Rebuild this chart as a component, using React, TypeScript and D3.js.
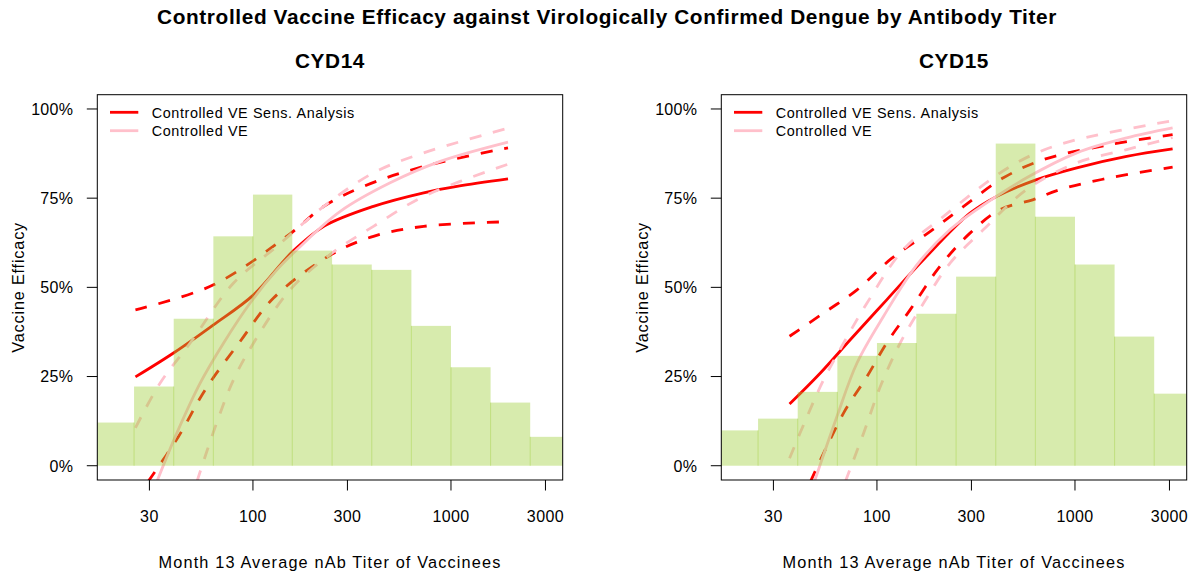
import React from "react";
import * as d3 from "d3";

const FONT = "'Liberation Sans', Arial, Helvetica, sans-serif";

// histogram bins (titer) and bar heights on the VE scale
const binEdges = [15.8, 25.1, 39.8, 63.1, 100, 158, 251, 398, 631, 1000, 1585, 2512, 3981];
const hist14 = [0.121, 0.222, 0.412, 0.643, 0.76, 0.603, 0.564, 0.549, 0.392, 0.276, 0.177, 0.081];
const hist15 = [0.099, 0.132, 0.207, 0.308, 0.344, 0.426, 0.53, 0.903, 0.698, 0.564, 0.362, 0.202];

// curves: [titer, VE]
const sens14: [number, number][] = [[25.5, 0.249], [39.7, 0.316], [63.2, 0.395], [100.7, 0.479], [159, 0.601], [228, 0.671], [406, 0.727], [728, 0.765], [1072, 0.783], [1941, 0.804]];
const sensHi14: [number, number][] = [[25.5, 0.437], [63.2, 0.507], [154, 0.65], [228, 0.727], [362, 0.783], [728, 0.839], [1941, 0.891]];
const sensLo14: [number, number][] = [[29.5, -0.045], [42.1, 0.082], [57.4, 0.213], [86.3, 0.349], [127, 0.47], [245, 0.59], [406, 0.643], [728, 0.671], [1941, 0.684]];
const ve14: [number, number][] = [[32.7, -0.045], [41.3, 0.092], [54.2, 0.232], [71.1, 0.344], [96.8, 0.456], [132, 0.549], [167, 0.606], [276, 0.713], [493, 0.793], [883, 0.853], [1941, 0.907]];
const veHi14: [number, number][] = [[25.5, 0.106], [34.0, 0.232], [48.2, 0.344], [79.8, 0.512], [132, 0.615], [228, 0.727], [406, 0.821], [728, 0.877], [1941, 0.946]];
const veLo14: [number, number][] = [[52.1, -0.045], [64.6, 0.11], [79.8, 0.241], [100.7, 0.344], [154, 0.493], [245, 0.592], [406, 0.671], [728, 0.755], [1941, 0.845]];

const sens15: [number, number][] = [[36.2, 0.173], [51.8, 0.26], [73.3, 0.353], [112, 0.465], [172, 0.578], [295, 0.708], [403, 0.755], [641, 0.802], [1021, 0.835], [1824, 0.867], [3112, 0.888]];
const sensHi15: [number, number][] = [[36.2, 0.363], [53.8, 0.428], [79.3, 0.493], [119, 0.582], [186, 0.657], [274, 0.727], [435, 0.807], [692, 0.858], [1500, 0.9], [3112, 0.928]];
const sensLo15: [number, number][] = [[46.1, -0.045], [67.9, 0.148], [89.1, 0.25], [112, 0.344], [147, 0.437], [208, 0.559], [295, 0.652], [419, 0.718], [617, 0.746], [839, 0.774], [1500, 0.807], [3112, 0.837]];
const ve15: [number, number][] = [[48.3, -0.045], [62.8, 0.138], [79.3, 0.288], [108, 0.419], [159, 0.563], [234, 0.662], [319, 0.718], [570, 0.807], [1021, 0.877], [1824, 0.919], [3112, 0.947]];
const veHi15: [number, number][] = [[36.2, 0.021], [44.4, 0.138], [53.8, 0.241], [67.9, 0.344], [89.1, 0.456], [136, 0.606], [217, 0.699], [419, 0.821], [641, 0.877], [1021, 0.914], [3112, 0.967]];
const veLo15: [number, number][] = [[69.2, -0.045], [85.7, 0.092], [104, 0.222], [131, 0.344], [172, 0.456], [234, 0.568], [345, 0.662], [570, 0.774], [1021, 0.849], [1824, 0.886], [3112, 0.92]];

const xTicks = [30, 100, 300, 1000, 3000];
const yTicks = [0, 0.25, 0.5, 0.75, 1];
const legendLabels = ["Controlled VE Sens. Analysis", "Controlled VE"];

const RED = "#ff0000";
const PINK = "#ffc0cb";
const HIST_FILL = "rgba(154,205,50,0.4)";

const W = 465.4;
const H = 385.3;
const TOP = 94.7;

const lo = Math.log10(20);
const hi = Math.log10(3000);
const ext = 0.04 * (hi - lo);
const x = d3.scaleLog().domain([10 ** (lo - ext), 10 ** (hi + ext)]).range([0, W]);
const y = d3.scaleLinear().domain([-0.04, 1.04]).range([H, 0]);

const line = d3
  .line<[number, number]>()
  .x((d) => x(d[0]))
  .y((d) => y(d[1]))
  .curve(d3.curveCatmullRom.alpha(0.5));

type Curve = { data: [number, number][]; color: string; dashed: boolean };

function Panel({ left, title, hist, curves, id }: { left: number; title: string; hist: number[]; curves: Curve[]; id: string }) {
  return (
    <g transform={`translate(${left},${TOP})`}>
      <defs>
        <clipPath id={id}>
          <rect x={0} y={0} width={W} height={H} />
        </clipPath>
      </defs>
      <text x={W / 2} y={68.3 - TOP} textAnchor="middle" fontSize={20.8} fontWeight="bold" letterSpacing={0.6}>
        {title}
      </text>
      <g clipPath={`url(#${id})`}>
        {curves.map((c, i) => (
          <path
            key={i}
            d={line(c.data) || ""}
            fill="none"
            stroke={c.color}
            strokeWidth={2.8}
            strokeDasharray={c.dashed ? "12,12" : undefined}
          />
        ))}
        {hist.map((h, i) => (
          <rect
            key={i}
            x={x(binEdges[i])}
            y={y(h)}
            width={x(binEdges[i + 1]) - x(binEdges[i])}
            height={y(0) - y(h)}
            fill={HIST_FILL}
          />
        ))}
        {hist.slice(1).map((h, i) => (
          <line
            key={i}
            x1={x(binEdges[i + 1])}
            x2={x(binEdges[i + 1])}
            y1={y(0)}
            y2={y(Math.min(h, hist[i]))}
            stroke={HIST_FILL}
            strokeWidth={1}
          />
        ))}
      </g>
      {legendLabels.map((l, i) => (
        <g key={l} transform={`translate(0,${17.6 + i * 18.4})`}>
          <line x1={12.7} x2={41} y1={0} y2={0} stroke={i === 0 ? RED : PINK} strokeWidth={2.8} />
          <text x={54.4} y={5.2} fontSize={14.4} letterSpacing={0.6}>
            {l}
          </text>
        </g>
      ))}
      <rect x={0} y={0} width={W} height={H} fill="none" stroke="#000" strokeWidth={1} />
      {yTicks.map((t) => (
        <g key={t} transform={`translate(0,${y(t)})`}>
          <line x1={0} x2={-10.5} stroke="#000" />
          <text x={-24} y={5.8} textAnchor="end" fontSize={16} letterSpacing={0.3}>
            {d3.format(".0%")(t)}
          </text>
        </g>
      ))}
      {xTicks.map((t) => (
        <g key={t} transform={`translate(${x(t)},${H})`}>
          <line y1={0} y2={10.5} stroke="#000" />
          <text y={41.7} textAnchor="middle" fontSize={16} letterSpacing={0.4}>
            {t}
          </text>
        </g>
      ))}
      <text x={W / 2} y={568.3 - TOP} textAnchor="middle" fontSize={16.3} letterSpacing={1.15}>
        Month 13 Average nAb Titer of Vaccinees
      </text>
      <text transform={`translate(${24 - 97.3},${H / 2}) rotate(-90)`} textAnchor="middle" fontSize={16.3} letterSpacing={0.8}>
        Vaccine Efficacy
      </text>
    </g>
  );
}

export default function App() {
  const curves14: Curve[] = [
    { data: sens14, color: RED, dashed: false },
    { data: sensHi14, color: RED, dashed: true },
    { data: sensLo14, color: RED, dashed: true },
    { data: ve14, color: PINK, dashed: false },
    { data: veHi14, color: PINK, dashed: true },
    { data: veLo14, color: PINK, dashed: true },
  ];
  const curves15: Curve[] = [
    { data: sens15, color: RED, dashed: false },
    { data: sensHi15, color: RED, dashed: true },
    { data: sensLo15, color: RED, dashed: true },
    { data: ve15, color: PINK, dashed: false },
    { data: veHi15, color: PINK, dashed: true },
    { data: veLo15, color: PINK, dashed: true },
  ];
  return (
    <svg
      width={1195}
      height={575}
      style={{ position: "absolute", left: 0, top: 0, background: "#fff" }}
      fontFamily={FONT}
    >
      <rect width={1195} height={575} fill="#fff" />
      <text x={607} y={24.3} textAnchor="middle" fontSize={20.8} fontWeight="bold" letterSpacing={0.62}>
        Controlled Vaccine Efficacy against Virologically Confirmed Dengue by Antibody Titer
      </text>
      <Panel left={97.3} title="CYD14" hist={hist14} curves={curves14} id="clip14" />
      <Panel left={721.3} title="CYD15" hist={hist15} curves={curves15} id="clip15" />
    </svg>
  );
}
